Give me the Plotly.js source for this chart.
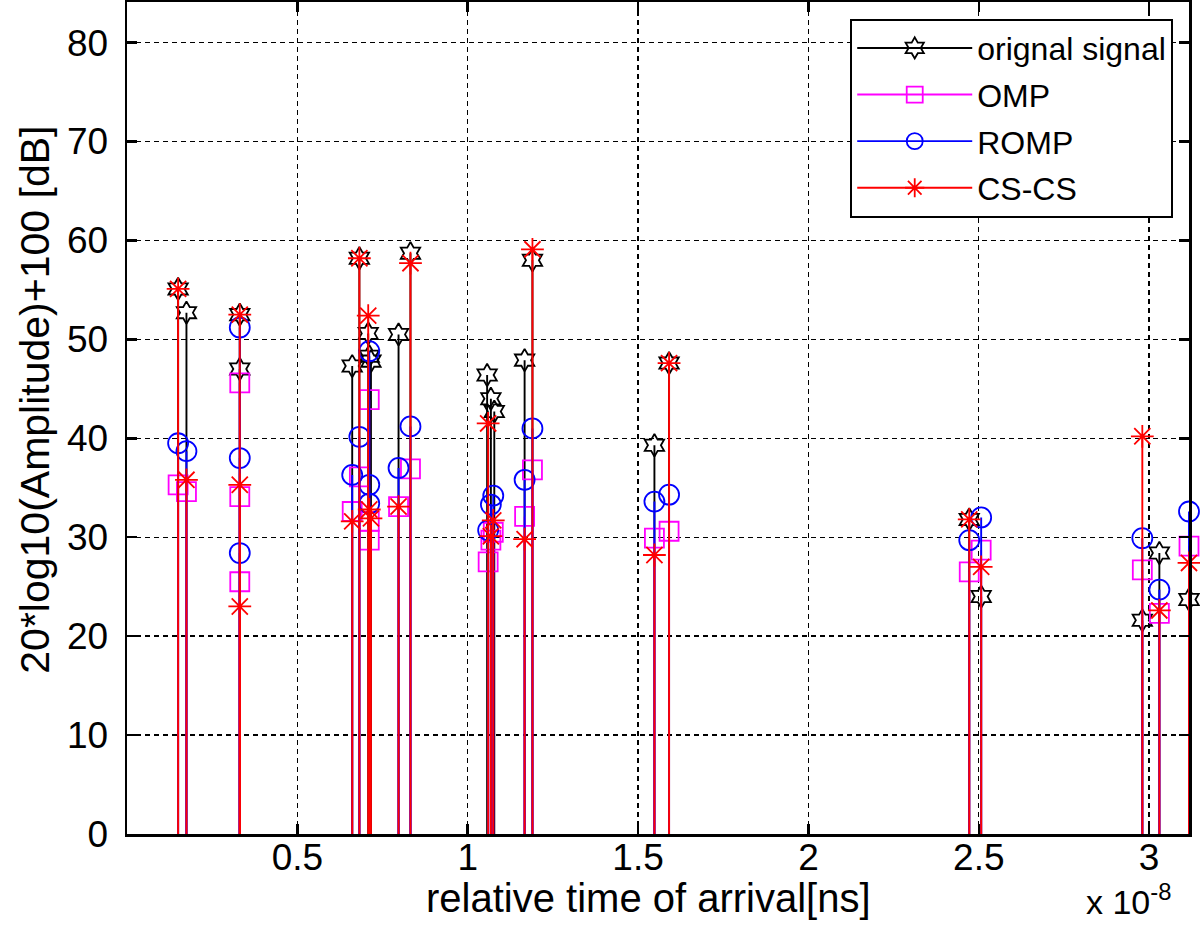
<!DOCTYPE html>
<html><head><meta charset="utf-8">
<script src="https://cdn.plot.ly/plotly-3.0.1.min.js"></script>
<style>html,body{margin:0;padding:0;background:#fff}#chart{width:1200px;height:939px}</style>
</head><body><div id="chart"></div>
<script>
// time of arrival in units of 1e-8 s, amplitude in dB
const origX = [0.150, 0.1745, 0.331, 0.331, 0.661, 0.682, 0.708, 0.711, 0.716, 0.797, 0.832, 1.057, 1.068, 1.078, 1.167, 1.190, 1.548, 1.591, 2.472, 2.507, 2.980, 3.030, 3.117];
const origY = [55.1, 52.7, 52.5, 47.0, 47.3, 58.2, 50.6, 48.3, 47.8, 50.5, 58.7, 46.4, 44.0, 42.7, 47.9, 58.0, 39.3, 47.6, 31.8, 24.0, 21.6, 28.4, 23.7];

const ompX = [0.150, 0.1745, 0.331, 0.331, 0.331, 0.661, 0.682, 0.711, 0.711, 0.711, 0.797, 0.832, 1.060, 1.068, 1.075, 1.167, 1.190, 1.548, 1.591, 2.472, 2.507, 2.980, 3.030, 3.117];
const ompY = [35.3, 34.6, 45.6, 34.1, 25.5, 32.6, 36.1, 43.9, 31.6, 29.7, 33.1, 36.9, 27.5, 29.7, 30.5, 32.1, 36.8, 29.9, 30.6, 26.5, 28.7, 26.7, 22.3, 29.1];

const rompX = [0.150, 0.1745, 0.331, 0.331, 0.331, 0.661, 0.682, 0.711, 0.711, 0.711, 0.797, 0.832, 1.060, 1.068, 1.075, 1.167, 1.190, 1.548, 1.591, 2.472, 2.507, 2.980, 3.030, 3.117];
const rompY = [39.5, 38.7, 51.2, 38.0, 28.4, 36.3, 40.15, 48.8, 35.3, 33.4, 37.0, 41.2, 30.7, 33.3, 34.2, 35.8, 41.0, 33.6, 34.3, 29.7, 32.0, 29.9, 24.7, 32.6];

const cscsX = [0.150, 0.1745, 0.331, 0.331, 0.331, 0.661, 0.682, 0.708, 0.711, 0.716, 0.797, 0.832, 1.060, 1.068, 1.075, 1.167, 1.190, 1.548, 1.591, 2.472, 2.507, 2.980, 3.030, 3.117];
const cscsY = [55.1, 35.8, 52.5, 35.3, 23.0, 31.6, 58.2, 52.4, 32.8, 31.9, 33.1, 57.7, 41.5, 30.1, 31.7, 29.8, 59.1, 28.2, 47.6, 31.8, 27.0, 40.2, 22.6, 27.4];

const seriesNames = ["orignal signal", "OMP", "ROMP", "CS-CS"];
const xTickVals = [0.5, 1, 1.5, 2, 2.5, 3];
const xTickText = ["0.5", "1", "1.5", "2", "2.5", "3"];
const yTickVals = [0, 10, 20, 30, 40, 50, 60, 70, 80];
const xTitle = "relative time of arrival[ns]";
const yTitle = "20*log10(Amplitude)+100 [dB]";
const xExponent = "x 10<sup>-8</sup>";

const FONT = "Liberation Sans, Arial, Helvetica, sans-serif";

function stemLines(xs, ys) {
  const x = [], y = [];
  xs.forEach((v, i) => { x.push(v, v, null); y.push(0, ys[i], null); });
  return {x, y};
}

const styles = [
  {color: "#000000", symbol: "hexagram-open", size: 17},
  {color: "#ff00ff", symbol: "square-open", size: 19},
  {color: "#0000ff", symbol: "circle-open", size: 20},
  {color: "#ff0000", symbol: "asterisk-open", size: 19}
];
const data = [[origX, origY], [ompX, ompY], [rompX, rompY], [cscsX, cscsY]];

const traces = [];
data.forEach((d, k) => {
  const s = styles[k];
  const st = stemLines(d[0], d[1]);
  traces.push({type: "scatter", mode: "lines", x: st.x, y: st.y, showlegend: false,
    line: {color: s.color, width: 1.9}, hoverinfo: "skip"});
  traces.push({type: "scatter", mode: "markers", x: d[0], y: d[1], showlegend: false, cliponaxis: false,
    marker: {symbol: s.symbol, size: s.size, color: s.color, line: {color: s.color, width: 1.8}}});
});
// legend entries
data.forEach((d, k) => {
  const s = styles[k];
  traces.push({type: "scatter", mode: "lines+markers", x: [null], y: [null], name: seriesNames[k],
    legendgroup: "g" + k,
    line: {color: s.color, width: 1.9},
    marker: {symbol: s.symbol, size: s.size, color: s.color, line: {color: s.color, width: 1.8}}});
});

const axisCommon = {
  showline: true, linecolor: "#000", linewidth: 2.5, mirror: "allticks",
  ticks: "inside", ticklen: 10, tickwidth: 2.5, tickcolor: "#000",
  showgrid: true, gridcolor: "#000", gridwidth: 1.3, griddash: "5px,4px",
  zeroline: false, tickfont: {family: FONT, size: 37, color: "#000"}
};

const layout = {
  width: 1200, height: 939,
  margin: {l: 127, r: 11, t: 2, b: 105},
  paper_bgcolor: "#fff", plot_bgcolor: "#fff",
  font: {family: FONT, color: "#000"},
  xaxis: Object.assign({}, axisCommon, {
    range: [0, 3.117], tickvals: xTickVals, ticktext: xTickText, ticklabelstandoff: -11
  }),
  yaxis: Object.assign({}, axisCommon, {
    range: [0, 84.1], tickvals: yTickVals, ticklabelstandoff: 9
  }),
  legend: {
    x: 0.681, y: 0.98, xanchor: "left", yanchor: "top",
    bgcolor: "#fff", bordercolor: "#000", borderwidth: 2,
    font: {family: FONT, size: 32, color: "#000"},
    tracegroupgap: 2, itemwidth: 115
  },
  annotations: [
    {xref: "paper", yref: "paper", x: 0.4915, y: -0.0765, xanchor: "center", yanchor: "middle",
     text: xTitle, showarrow: false, font: {family: FONT, size: 40, color: "#000"}},
    {xref: "paper", yref: "paper", x: -0.0866, y: 0.522, xanchor: "center", yanchor: "middle",
     text: yTitle, textangle: -90, showarrow: false, font: {family: FONT, size: 41, color: "#000"}},
    {xref: "paper", yref: "paper", x: 0.9435, y: -0.079, xanchor: "center", yanchor: "middle",
     text: xExponent, showarrow: false, font: {family: FONT, size: 34, color: "#000"}}
  ],
  showlegend: true
};

Plotly.newPlot("chart", traces, layout, {displayModeBar: false, staticPlot: true});
</script></body></html>
